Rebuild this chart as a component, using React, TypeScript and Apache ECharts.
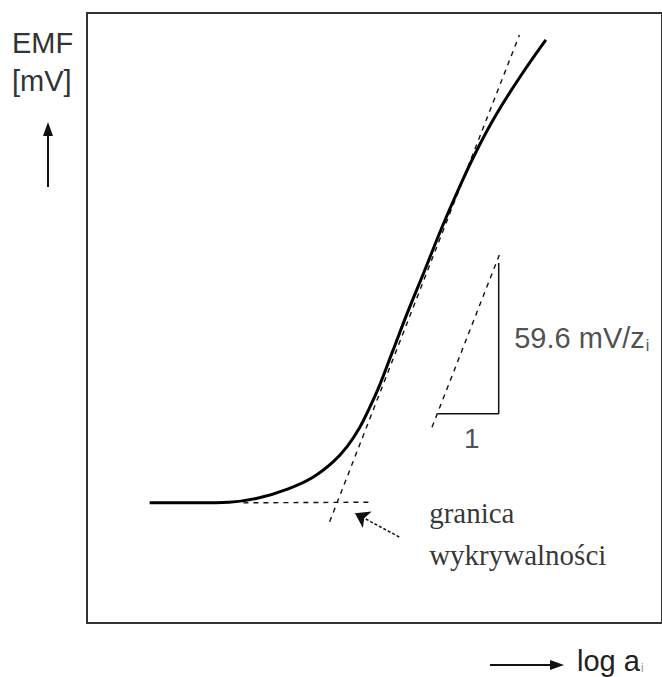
import React, { useEffect, useRef } from "react";
import * as echarts from "echarts";

// Calibration curve: EMF vs log a (arbitrary units, 0..10 on both axes)
const curveX = [1.09, 1.95, 2.47, 2.98, 3.5, 3.93, 4.28, 4.53, 4.74, 4.91, 5.09, 5.31, 5.57, 5.86, 6.17, 6.47, 6.78, 7.12, 7.55, 7.98];
const curveY = [1.97, 1.97, 1.98, 2.05, 2.2, 2.39, 2.64, 2.9, 3.2, 3.52, 3.9, 4.44, 5.08, 5.75, 6.48, 7.13, 7.75, 8.34, 8.98, 9.56];

// Nernstian tangent and the flat low-activity asymptote
const tangentLine = [[4.22, 1.66], [7.52, 9.64]];
const baselineLine = [[2.72, 1.97], [4.91, 1.98]];

// Slope triangle
const slopeHyp = [[6.0, 3.21], [7.19, 6.08]];
const slopeLegs = [[6.1, 3.43], [7.16, 3.43], [7.16, 5.9]];

// Arrow pointing at the detection limit
const limitArrow = [[5.43, 1.41], [4.66, 1.8]];

const slopeLabel = { pos: [7.43, 4.67], text: "59.6 mV/z", sub: "i" };
const runLabel = { pos: [6.69, 3.03], text: "1" };
const limitLabel = { pos: [5.95, 1.8], lines: ["granica", "wykrywalności"] };

export default function App() {
  const ref = useRef<HTMLDivElement>(null);

  useEffect(() => {
    if (!ref.current) return;
    const chart = echarts.init(ref.current, null, { renderer: "svg" });
    const curve = curveX.map((x, i) => [x, curveY[i]]);
    const sans = "Liberation Sans";
    const dashed = { color: "#111", width: 1.4, type: [5, 5] as number[] };

    chart.setOption({
      animation: false,
      backgroundColor: "#fff",
      grid: {
        left: 87,
        top: 13,
        width: 580,
        height: 610,
        show: true,
        borderColor: "#333",
        borderWidth: 2,
        backgroundColor: "transparent",
      },
      xAxis: { type: "value", min: 0, max: 10, show: false },
      yAxis: { type: "value", min: 0, max: 10, show: false },
      series: [
        {
          type: "line",
          data: curve,
          smooth: 0.4,
          symbol: "none",
          lineStyle: { color: "#000", width: 3 },
          z: 5,
        },
        { type: "line", data: tangentLine, symbol: "none", lineStyle: dashed },
        { type: "line", data: baselineLine, symbol: "none", lineStyle: dashed },
        { type: "line", data: slopeHyp, symbol: "none", lineStyle: dashed },
        {
          type: "line",
          data: slopeLegs,
          symbol: "none",
          lineStyle: { color: "#111", width: 1.5 },
        },
        {
          type: "lines",
          coordinateSystem: "cartesian2d",
          symbol: ["none", "arrow"],
          symbolSize: 14,
          itemStyle: { color: "#111" },
          lineStyle: { color: "#111", width: 1.5, opacity: 1, type: [3, 2] },
          data: [{ coords: limitArrow }],
        },
        {
          type: "scatter",
          symbolSize: 0,
          silent: true,
          data: [
            {
              value: slopeLabel.pos,
              label: {
                show: true,
                position: "right",
                distance: 0,
                formatter: `{m|${slopeLabel.text}}{s|${slopeLabel.sub}}`,
                rich: {
                  m: { fontFamily: sans, fontSize: 29, color: "#222" },
                  s: { fontFamily: sans, fontSize: 16, color: "#222", padding: [14, 0, 0, 1] },
                },
              },
            },
            {
              value: runLabel.pos,
              label: {
                show: true,
                position: "inside",
                formatter: runLabel.text,
                fontFamily: sans,
                fontSize: 28,
                color: "#222",
              },
            },
            {
              value: limitLabel.pos,
              label: {
                show: true,
                position: "right",
                distance: 0,
                align: "left",
                verticalAlign: "top",
                offset: [0, -21],
                formatter: limitLabel.lines.join("\n"),
                fontFamily: "Liberation Serif",
                fontSize: 29,
                lineHeight: 42,
                color: "#000",
              },
            },
          ],
        },
      ],
      graphic: [
        // y-axis caption and arrow
        { type: "text", left: 12, top: 28, style: { text: "EMF", font: `29px "${sans}"`, fill: "#333" } },
        { type: "text", left: 12, top: 66, style: { text: "[mV]", font: `29px "${sans}"`, fill: "#333" } },
        { type: "line", shape: { x1: 48, y1: 187, x2: 48, y2: 130 }, style: { stroke: "#111", lineWidth: 2 } },
        { type: "polygon", shape: { points: [[48, 122], [43, 136], [53, 136]] }, style: { fill: "#111" } },
        // x-axis caption and arrow
        { type: "line", shape: { x1: 490, y1: 665, x2: 556, y2: 665 }, style: { stroke: "#111", lineWidth: 2 } },
        { type: "polygon", shape: { points: [[564, 665], [550, 660], [550, 670]] }, style: { fill: "#111" } },
        {
          type: "text",
          left: 577,
          top: 646,
          style: {
            text: "{m|log a}{s|i}",
            rich: {
              m: { fontFamily: sans, fontSize: 29, fill: "#222" },
              s: { fontFamily: sans, fontSize: 12, fill: "#999", padding: [14, 0, 0, 1] },
            },
          },
        },
      ],
    });
    return () => chart.dispose();
  }, []);

  return (
    <div
      ref={ref}
      style={{ position: "fixed", left: 0, top: 0, width: 662, height: 677, background: "#fff" }}
    />
  );
}
